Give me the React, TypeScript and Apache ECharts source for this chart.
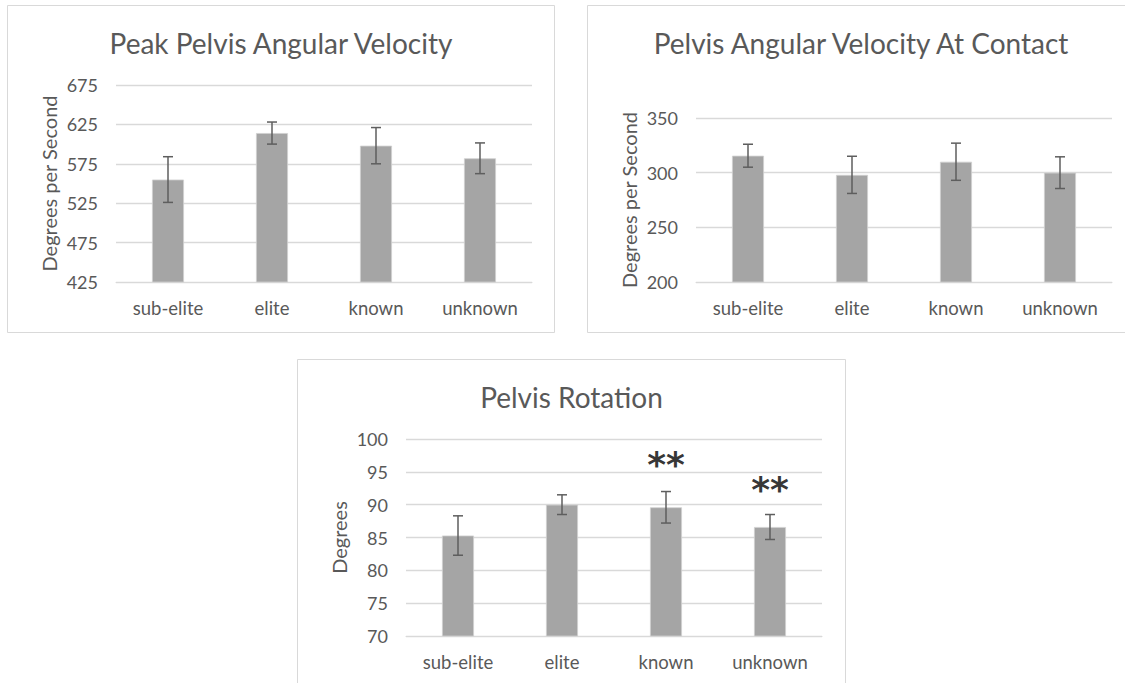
import React, { useEffect, useRef } from "react";
import * as echarts from "echarts";

const categories = ["sub-elite", "elite", "known", "unknown"];

const peakMeans = [555, 614, 598, 582];
const peakErr = [29, 14, 23, 19.5];
const peakTicks = { min: 425, max: 675, interval: 50 };

const contactMeans = [315.5, 298, 310, 300];
const contactErr = [10.5, 17, 17, 14.5];
const contactTicks = { min: 200, max: 350, interval: 50 };

const rotationMeans = [85.3, 90, 89.6, 86.6];
const rotationErr = [3, 1.5, 2.4, 1.9];
const rotationTicks = { min: 70, max: 100, interval: 5 };

const sigCategories = ["known", "unknown"];
const sigLevels = [96.1, 92.3];
const sigText = "**";

const titles = ["Peak Pelvis Angular Velocity", "Pelvis Angular Velocity At Contact", "Pelvis Rotation"];
const yNames = ["Degrees per Second", "Degrees per Second", "Degrees"];

const FONT = "Lato";
const TEXT = "#595959";
const GRID = "#D9D9D9";
const BAR = "#A5A5A5";
const ERR = "#5E5E5E";

const grids = [
  { left: 116, top: 85, width: 416, height: 197 },
  { left: 696, top: 118, width: 416, height: 164 },
  { left: 406, top: 439, width: 416, height: 197 },
];
const frames = [
  { x: 7.5, y: 5.5, w: 547, h: 327 },
  { x: 587.5, y: 5.5, w: 547, h: 327 },
  { x: 297.5, y: 359.5, w: 548, h: 340 },
];

function errData(means: number[], errs: number[]) {
  return means.map((m, i) => [i, m - errs[i], m + errs[i]]);
}

function errorSeries(idx: number, means: number[], errs: number[]) {
  return {
    type: "custom",
    xAxisIndex: idx,
    yAxisIndex: idx,
    data: errData(means, errs),
    z: 5,
    renderItem: (params: any, api: any) => {
      const c = api.value(0);
      const lo = api.coord([c, api.value(1)]);
      const hi = api.coord([c, api.value(2)]);
      const hw = 5;
      const style = { stroke: ERR, lineWidth: 1.5 };
      return {
        type: "group",
        children: [
          { type: "line", shape: { x1: lo[0], y1: lo[1], x2: hi[0], y2: hi[1] }, style },
          { type: "line", shape: { x1: hi[0] - hw, y1: hi[1], x2: hi[0] + hw, y2: hi[1] }, style },
          { type: "line", shape: { x1: lo[0] - hw, y1: lo[1], x2: lo[0] + hw, y2: lo[1] }, style },
        ],
      };
    },
  };
}

export default function App() {
  const ref = useRef<HTMLDivElement>(null);
  useEffect(() => {
    document.body.style.margin = "0";
    const chart = echarts.init(ref.current!, null, { renderer: "svg" });
    const ticks = [peakTicks, contactTicks, rotationTicks];
    const means = [peakMeans, contactMeans, rotationMeans];
    const errs = [peakErr, contactErr, rotationErr];

    const graphic: any[] = [];
    frames.forEach((f) => {
      graphic.push({
        type: "rect",
        z: -10,
        shape: { x: f.x, y: f.y, width: f.w, height: f.h },
        style: { fill: "#fff", stroke: GRID, lineWidth: 1 },
      });
    });
    frames.forEach((f, i) => {
      graphic.push({
        type: "text",
        x: f.x + f.w / 2,
        y: f.y + 37,
        style: {
          text: titles[i],
          fontFamily: FONT,
          fontSize: 28,
          fill: TEXT,
          textAlign: "center",
          textVerticalAlign: "middle",
        },
      });
    });
    grids.forEach((g, i) => {
      graphic.push({
        type: "text",
        x: g.left - 67,
        y: g.top + g.height / 2,
        rotation: Math.PI / 2,
        style: {
          text: yNames[i],
          fontFamily: FONT,
          fontSize: 20,
          fill: TEXT,
          textAlign: "center",
          textVerticalAlign: "middle",
        },
      });
    });

    const option: any = {
      animation: false,
      backgroundColor: "#fff",
      grid: grids.map((g) => ({ ...g, containLabel: false })),
      xAxis: grids.map((_, i) => ({
        type: "category",
        gridIndex: i,
        data: categories,
        axisLine: { show: true, lineStyle: { color: GRID, width: 1 } },
        axisTick: { show: false },
        axisLabel: { color: TEXT, fontFamily: FONT, fontSize: 18.5, margin: 16 },
      })),
      yAxis: grids.map((_, i) => ({
        type: "value",
        gridIndex: i,
        min: ticks[i].min,
        max: ticks[i].max,
        interval: ticks[i].interval,
        axisLine: { show: false },
        axisTick: { show: false },
        splitLine: { show: true, lineStyle: { color: GRID, width: 1.3 } },
        axisLabel: { color: TEXT, fontFamily: FONT, fontSize: 18, margin: 18 },
      })),
      series: [
        ...grids.map((_, i) => ({
          type: "bar",
          xAxisIndex: i,
          yAxisIndex: i,
          data: means[i],
          barWidth: 32,
          itemStyle: { color: BAR, borderColor: "#D0D0D0", borderWidth: 0.8 },
          z: 3,
        })),
        ...grids.map((_, i) => errorSeries(i, means[i], errs[i])),
        {
          type: "scatter",
          xAxisIndex: 2,
          yAxisIndex: 2,
          symbolSize: 1,
          itemStyle: { color: "rgba(0,0,0,0)" },
          data: sigCategories.map((c, k) => [c, sigLevels[k]]),
          label: {
            show: true,
            position: "inside",
            formatter: () => sigText,
            color: "#000",
            fontFamily: "DejaVu Sans",
            fontWeight: "bold",
            fontSize: 36,
          },
          z: 6,
        },
      ],
      graphic,
    };
    chart.setOption(option);
    return () => chart.dispose();
  }, []);
  return <div ref={ref} style={{ width: 1125, height: 683 }} />;
}
